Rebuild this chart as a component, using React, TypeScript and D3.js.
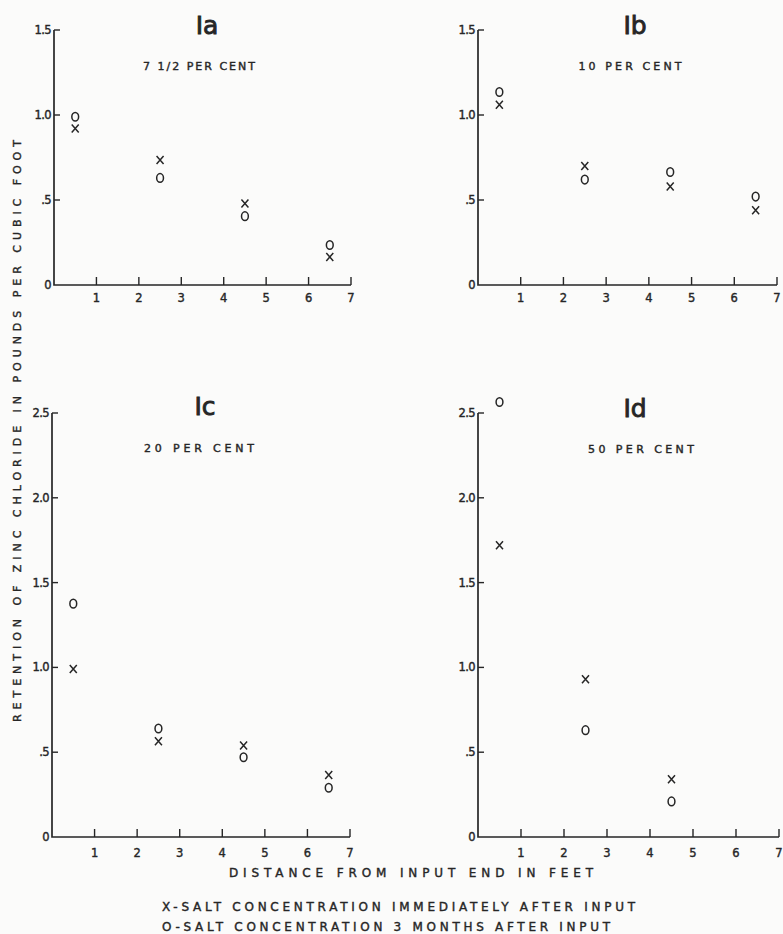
import * as d3 from 'd3';

// distances along the column (feet) where the samples were taken
const distances = [0.5, 2.5, 4.5, 6.5];

const panelNames = ['Ia', 'Ib', 'Ic', 'Id'];
const concentrations = ['7 1/2 PER CENT', '10 PER CENT', '20 PER CENT', '50 PER CENT'];

// X - salt concentration immediately after input
const immediateA = [0.92, 0.735, 0.48, 0.165];
const immediateB = [1.06, 0.7, 0.58, 0.44];
const immediateC = [0.99, 0.565, 0.54, 0.365];
const immediateD = [1.72, 0.93, 0.34, null];

// O - salt concentration 3 months after input
const threeMonthsA = [0.99, 0.63, 0.405, 0.235];
const threeMonthsB = [1.135, 0.62, 0.665, 0.52];
const threeMonthsC = [1.376, 0.64, 0.47, 0.29];
const threeMonthsD = [2.565, 0.63, 0.21, null];

const yTicksTop = [0, 0.5, 1.0, 1.5];
const yTicksBottom = [0, 0.5, 1.0, 1.5, 2.0, 2.5];
const xTicks = [1, 2, 3, 4, 5, 6, 7];

const yLabel = 'RETENTION OF ZINC CHLORIDE IN POUNDS PER CUBIC FOOT';
const xLabel = 'DISTANCE FROM INPUT END IN FEET';
const legendX = 'X-SALT CONCENTRATION IMMEDIATELY AFTER INPUT';
const legendO = 'O-SALT CONCENTRATION 3 MONTHS AFTER INPUT';

const INK = '#262626';
const FONT = '"DejaVu Sans", Verdana, sans-serif';

// lettering in the scan is heavier than a plain sans, so add a thin outline
const ink = { fill: INK, stroke: INK, strokeWidth: 0.4, fontFamily: FONT };

const fmtTick = (v: number) => (v === 0 ? '0' : v < 1 ? '.5' : v.toFixed(1));

type PanelProps = {
  name: string;
  sub: string;
  xs: (number | null)[];
  os: (number | null)[];
  yMax: number;
  yTicks: number[];
  left: number;
  right: number;
  top: number;
  bottom: number;
  titleX: number;
  titleY: number;
  subX: number;
  subY: number;
  subW: number;
  labelGap: number;
};

const Panel = (p: PanelProps) => {
  const x = d3.scaleLinear().domain([0, 7]).range([p.left, p.right]);
  const y = d3.scaleLinear().domain([0, p.yMax]).range([p.bottom, p.top]);

  return (
    <g>
      <text x={p.titleX} y={p.titleY} textAnchor="middle" fontSize={25} {...ink} strokeWidth={0.9}>
        {p.name}
      </text>
      <text
        x={p.subX}
        y={p.subY}
        textAnchor="middle"
        fontSize={11}
        {...ink}
        textLength={p.subW}
        lengthAdjust="spacing"
      >
        {p.sub}
      </text>

      {/* axes */}
      <path
        d={`M${x(0)},${y(p.yMax)}V${y(0)}H${x(7)}`}
        fill="none"
        stroke={INK}
        strokeWidth={1.7}
      />
      {p.yTicks.map(t => (
        <g key={'y' + t}>
          {t > 0 && <line x1={x(0)} x2={x(0) + 6} y1={y(t)} y2={y(t)} stroke={INK} strokeWidth={1.4} />}
          <text
            x={x(0) - 3}
            y={y(t)}
            dy="0.35em"
            textAnchor="end"
            fontSize={11.5}
            {...ink}
            letterSpacing={-0.6}
          >
            {fmtTick(t)}
          </text>
        </g>
      ))}
      {xTicks.map(t => (
        <g key={'x' + t}>
          <line x1={x(t)} x2={x(t)} y1={y(0)} y2={y(0) - 8} stroke={INK} strokeWidth={1.4} />
          <text x={x(t)} y={y(0) + p.labelGap} textAnchor="middle" fontSize={11.5} {...ink}>
            {t}
          </text>
        </g>
      ))}

      {/* markers */}
      {distances.map((d, i) =>
        p.xs[i] == null ? null : (
          <path
            key={'mx' + i}
            d="M-3.5,-4L3.5,4M3.5,-4L-3.5,4"
            transform={`translate(${x(d)},${y(p.xs[i] as number)})`}
            stroke={INK}
            strokeWidth={1.5}
            fill="none"
          />
        )
      )}
      {distances.map((d, i) =>
        p.os[i] == null ? null : (
          <ellipse
            key={'mo' + i}
            cx={x(d)}
            cy={y(p.os[i] as number)}
            rx={3.4}
            ry={4.3}
            stroke={INK}
            strokeWidth={1.5}
            fill="none"
          />
        )
      )}
    </g>
  );
};

export default function App() {
  return (
    <svg
      width={783}
      height={934}
      style={{ position: 'absolute', left: 0, top: 0, background: '#fbfbfa' }}
    >
      <Panel
        name={panelNames[0]} sub={concentrations[0]} xs={immediateA} os={threeMonthsA}
        yMax={1.5} yTicks={yTicksTop} left={54} right={351} top={30} bottom={285}
        titleX={207} titleY={34} subX={199} subY={70} subW={112} labelGap={17}
      />
      <Panel
        name={panelNames[1]} sub={concentrations[1]} xs={immediateB} os={threeMonthsB}
        yMax={1.5} yTicks={yTicksTop} left={478} right={777} top={30} bottom={285}
        titleX={635} titleY={34} subX={630} subY={70} subW={103} labelGap={17}
      />
      <Panel
        name={panelNames[2]} sub={concentrations[2]} xs={immediateC} os={threeMonthsC}
        yMax={2.5} yTicks={yTicksBottom} left={52} right={350} top={413} bottom={837}
        titleX={205} titleY={415} subX={199} subY={452} subW={110} labelGap={20}
      />
      <Panel
        name={panelNames[3]} sub={concentrations[3]} xs={immediateD} os={threeMonthsD}
        yMax={2.5} yTicks={yTicksBottom} left={478} right={779} top={413} bottom={837}
        titleX={635} titleY={417} subX={641} subY={453} subW={106} labelGap={20}
      />

      <text
        transform="translate(21,431) rotate(-90)"
        textAnchor="middle"
        fontSize={11}
        {...ink}
        textLength={582}
        lengthAdjust="spacing"
      >
        {yLabel}
      </text>
      <text x={411} y={877} textAnchor="middle" fontSize={12} {...ink}
        textLength={364} lengthAdjust="spacing">
        {xLabel}
      </text>
      <text x={162} y={911} fontSize={12} {...ink} textLength={473} lengthAdjust="spacing">
        {legendX}
      </text>
      <text x={162} y={931} fontSize={12} {...ink} textLength={448} lengthAdjust="spacing">
        {legendO}
      </text>
    </svg>
  );
}
